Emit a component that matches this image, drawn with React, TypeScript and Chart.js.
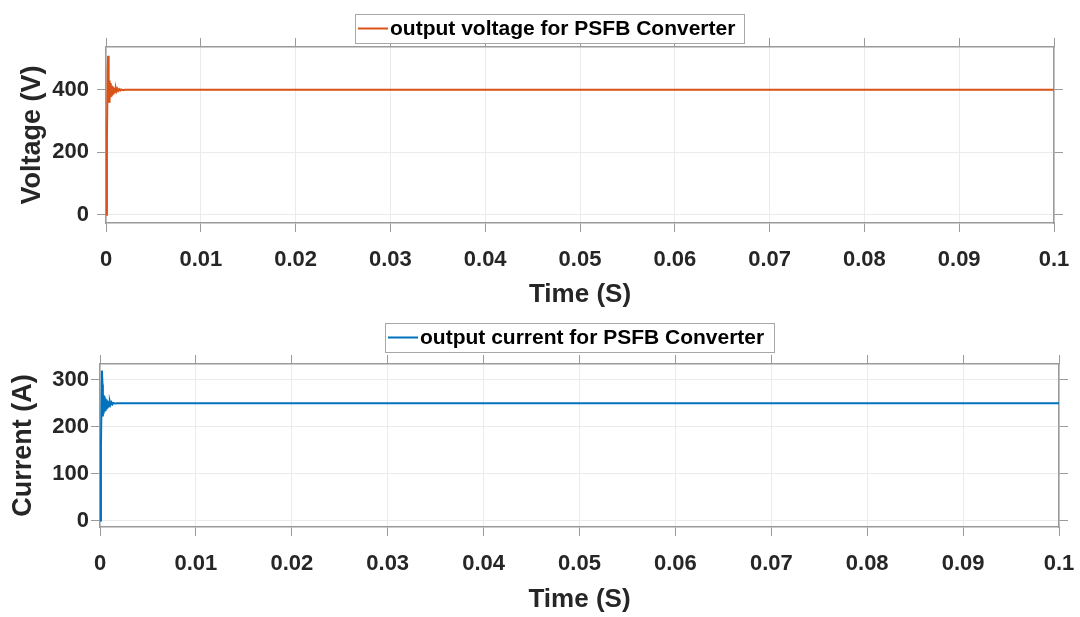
import React, { useEffect, useRef } from "react";
import { Chart, registerables } from "chart.js";

Chart.register(...registerables);

// ---- Data ----
const timeVoltage = [
  0, 0.0001, 0.00018, 0.00022, 0.00028, 0.00032, 0.00036, 0.0004, 0.00044, 0.00048,
  0.00052, 0.00056, 0.0006, 0.00065, 0.0007, 0.00075, 0.0008, 0.00086, 0.00092, 0.00098,
  0.00105, 0.00112, 0.0012, 0.0013, 0.0014, 0.0015, 0.0016, 0.0018, 0.002, 0.0025, 0.1,
];
const voltageValues = [
  0, 250, 470, 509, 440, 362, 430, 370, 422, 376,
  418, 382, 414, 386, 411, 389, 408, 392, 406, 394,
  404, 396, 403, 397, 402, 398, 401, 399, 400.5, 400, 400,
];

const timeCurrent = [
  0, 0.0001, 0.0002, 0.00026, 0.0003, 0.00034, 0.00038, 0.00042, 0.00046, 0.0005,
  0.00054, 0.00058, 0.00063, 0.00068, 0.00073, 0.00078, 0.00084, 0.0009, 0.00096, 0.00103,
  0.0011, 0.0012, 0.0013, 0.0014, 0.0016, 0.0018, 0.1,
];
const currentValues = [
  0, 160, 320, 290, 222, 268, 228, 265, 232, 262,
  236, 260, 239, 258, 241, 256, 243, 254, 245, 253,
  247, 252, 248, 251, 249.5, 250, 250,
];

const xTickValues = [0, 0.01, 0.02, 0.03, 0.04, 0.05, 0.06, 0.07, 0.08, 0.09, 0.1];
const voltageTicks = [0, 200, 400];
const currentTicks = [0, 100, 200, 300];

const voltageLabel = "output voltage for PSFB Converter";
const currentLabel = "output current for PSFB Converter";

// ---- Styling ----
const FONT = '"Liberation Sans", Arial, Helvetica, sans-serif';
const TEXT = "#262626";
const GRID = "#ebebeb";
const AXIS = "#9a9a9a";

type PanelProps = {
  times: number[];
  values: number[];
  label: string;
  color: string;
  yTitle: string;
  yMin: number;
  yMax: number;
  yTicks: number[];
  width: number;
  height: number;
  left: number;
  right: number;
  top: number;
  bottom: number;
  yTickPad: number;
  yTitlePad: number;
  xTickPad: number;
  xTitlePad: number;
  legendBox: { x: number; y: number; w: number; h: number };
};

function fmtX(v: number) {
  return String(Number(v.toFixed(2)));
}

function Panel(p: PanelProps) {
  const ref = useRef<HTMLCanvasElement | null>(null);

  useEffect(() => {
    if (!ref.current) return;
    const tickLen = 9;

    const legendPlugin = {
      id: "boxLegend",
      afterDraw(chart: any) {
        const ctx = chart.ctx as CanvasRenderingContext2D;
        const ds = chart.data.datasets[0];
        const b = p.legendBox;
        ctx.save();
        ctx.fillStyle = "#ffffff";
        ctx.fillRect(b.x, b.y, b.w, b.h);
        ctx.strokeStyle = "#a8a8a8";
        ctx.lineWidth = 1;
        ctx.strokeRect(b.x + 0.5, b.y + 0.5, b.w, b.h);
        const cy = b.y + b.h / 2;
        ctx.strokeStyle = ds.borderColor;
        ctx.lineWidth = 2;
        ctx.beginPath();
        ctx.moveTo(b.x + 3, cy);
        ctx.lineTo(b.x + 33, cy);
        ctx.stroke();
        ctx.fillStyle = "#000000";
        ctx.font = `bold 21px ${FONT}`;
        ctx.textBaseline = "middle";
        ctx.textAlign = "left";
        ctx.fillText(ds.label, b.x + 35, cy + 1);
        ctx.restore();
      },
    };

    const xTicksBuild = (scale: any) => {
      scale.ticks = xTickValues.map((v) => ({ value: v }));
    };
    const yTicksBuild = (scale: any) => {
      scale.ticks = p.yTicks.map((v) => ({ value: v }));
    };
    const noPad = (s: any) => {
      s.paddingLeft = 0;
      s.paddingRight = 0;
      s.paddingTop = 0;
      s.paddingBottom = 0;
    };

    const chart = new Chart(ref.current, {
      type: "line",
      data: {
        datasets: [
          {
            label: p.label,
            data: p.times.map((t, i) => ({ x: t, y: p.values[i] })),
            borderColor: p.color,
            backgroundColor: p.color,
            borderWidth: 2,
            pointRadius: 0,
            tension: 0,
            fill: false,
          },
        ],
      },
      options: {
        responsive: false,
        animation: false,
        events: [],
        layout: { padding: 0 },
        plugins: {
          legend: { display: false },
          tooltip: { enabled: false },
        },
        scales: {
          x: {
            type: "linear",
            position: "bottom",
            min: 0,
            max: 0.1,
            afterBuildTicks: xTicksBuild,
            afterFit: (s: any) => {
              s.height = p.height - p.bottom;
              noPad(s);
            },
            grid: {
              color: GRID,
              lineWidth: 1,
              drawTicks: true,
              tickLength: tickLen,
              tickColor: AXIS,
            },
            border: { display: true, color: AXIS, width: 1.5 },
            ticks: {
              color: TEXT,
              font: { family: FONT, size: 22, weight: "bold", lineHeight: 1 },
              padding: p.xTickPad,
              maxRotation: 0,
              autoSkip: false,
              callback: (v: any) => fmtX(Number(v)),
            },
            title: {
              display: true,
              text: "Time (S)",
              color: TEXT,
              font: { family: FONT, size: 26, weight: "bold", lineHeight: 1 },
              padding: { top: 0, bottom: p.xTitlePad },
            },
          },
          x2: {
            type: "linear",
            position: "top",
            min: 0,
            max: 0.1,
            afterBuildTicks: xTicksBuild,
            afterFit: (s: any) => {
              s.height = p.top;
              noPad(s);
            },
            grid: {
              drawOnChartArea: false,
              drawTicks: true,
              tickLength: tickLen,
              tickColor: AXIS,
            },
            border: { display: true, color: AXIS, width: 1.5 },
            ticks: { display: false },
          },
          y: {
            type: "linear",
            position: "left",
            min: p.yMin,
            max: p.yMax,
            afterBuildTicks: yTicksBuild,
            afterFit: (s: any) => {
              s.width = p.left;
              noPad(s);
            },
            grid: {
              color: GRID,
              lineWidth: 1,
              drawTicks: true,
              tickLength: tickLen,
              tickColor: AXIS,
            },
            border: { display: true, color: AXIS, width: 1.5 },
            ticks: {
              color: TEXT,
              font: { family: FONT, size: 22, weight: "bold", lineHeight: 1 },
              padding: p.yTickPad,
              autoSkip: false,
            },
            title: {
              display: true,
              text: p.yTitle,
              color: TEXT,
              font: { family: FONT, size: 27, weight: "bold", lineHeight: 1 },
              padding: { top: p.yTitlePad, bottom: 0 },
            },
          },
          y2: {
            type: "linear",
            position: "right",
            min: p.yMin,
            max: p.yMax,
            afterBuildTicks: yTicksBuild,
            afterFit: (s: any) => {
              s.width = p.width - p.right;
              noPad(s);
            },
            grid: {
              drawOnChartArea: false,
              drawTicks: true,
              tickLength: tickLen,
              tickColor: AXIS,
            },
            border: { display: true, color: AXIS, width: 1.5 },
            ticks: { display: false },
          },
        },
      } as any,
      plugins: [legendPlugin],
    });

    return () => chart.destroy();
  }, []);

  return (
    <canvas
      ref={ref}
      width={p.width}
      height={p.height}
      style={{ display: "block", width: p.width, height: p.height }}
    />
  );
}

export default function App() {
  useEffect(() => {
    document.body.style.margin = "0";
    document.body.style.background = "#ffffff";
  }, []);

  return (
    <div
      style={{
        position: "fixed",
        left: 0,
        top: 0,
        width: 1080,
        height: 617,
        background: "#ffffff",
        overflow: "hidden",
      }}
    >
      <Panel
        times={timeVoltage}
        values={voltageValues}
        label={voltageLabel}
        color="#D95319"
        yTitle="Voltage (V)"
        yMin={-26}
        yMax={537}
        yTicks={voltageTicks}
        width={1080}
        height={310}
        left={106}
        right={1054}
        top={47}
        bottom={223}
        yTickPad={8}
        yTitlePad={19}
        xTickPad={17}
        xTitlePad={2}
        legendBox={{ x: 355, y: 14, w: 389, h: 29 }}
      />
      <Panel
        times={timeCurrent}
        values={currentValues}
        label={currentLabel}
        color="#0072BD"
        yTitle="Current (A)"
        yMin={-14}
        yMax={334}
        yTicks={currentTicks}
        width={1080}
        height={307}
        left={100}
        right={1059}
        top={54}
        bottom={217}
        yTickPad={2}
        yTitlePad={10}
        xTickPad={17}
        xTitlePad={4}
        legendBox={{ x: 385, y: 13, w: 389, h: 29 }}
      />
    </div>
  );
}
